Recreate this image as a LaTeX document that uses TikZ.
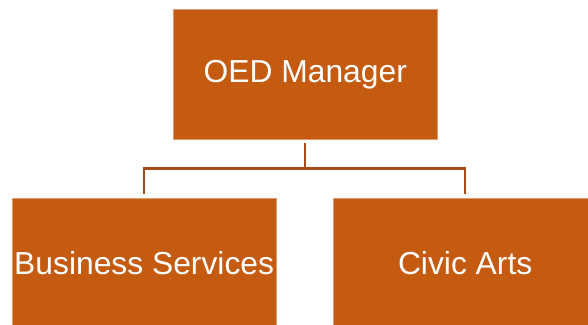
\documentclass[tikz,border=0pt]{standalone}
\usepackage{fontspec}
\setmainfont{Liberation Sans}
\definecolor{boxfill}{HTML}{C55A11}
\definecolor{linkcol}{HTML}{A24E16}
\begin{document}
\begin{tikzpicture}[x=1pt,y=-1pt,
  orgbox/.style={draw=boxfill!60!white, line width=0.6pt, fill=boxfill, text=white, font=\fontsize{31.8}{36}\selectfont, inner sep=0pt, anchor=north west},
  link/.style={draw=linkcol, line width=2.6pt}]
\useasboundingbox (0,0) rectangle (588,324);
\node[orgbox, minimum width=263.4pt, minimum height=130pt] (mgr) at (173.3,9) {OED Manager};
\node[orgbox, minimum width=263.7pt, minimum height=129.3pt] (bus) at (12,197.7) {Business Services};
\node[orgbox, minimum width=263.7pt, minimum height=129.3pt] (civ) at (333,197.7) {Civic Arts};
\coordinate (mid) at (305,168.3);
\draw[link] ([yshift=-3pt]mgr.south -| mid) -- (mid);
\draw[link] (mid) -| ([yshift=3.5pt]bus.north);
\draw[link] (mid) -| ([yshift=3.5pt]civ.north);
\end{tikzpicture}
\end{document}
